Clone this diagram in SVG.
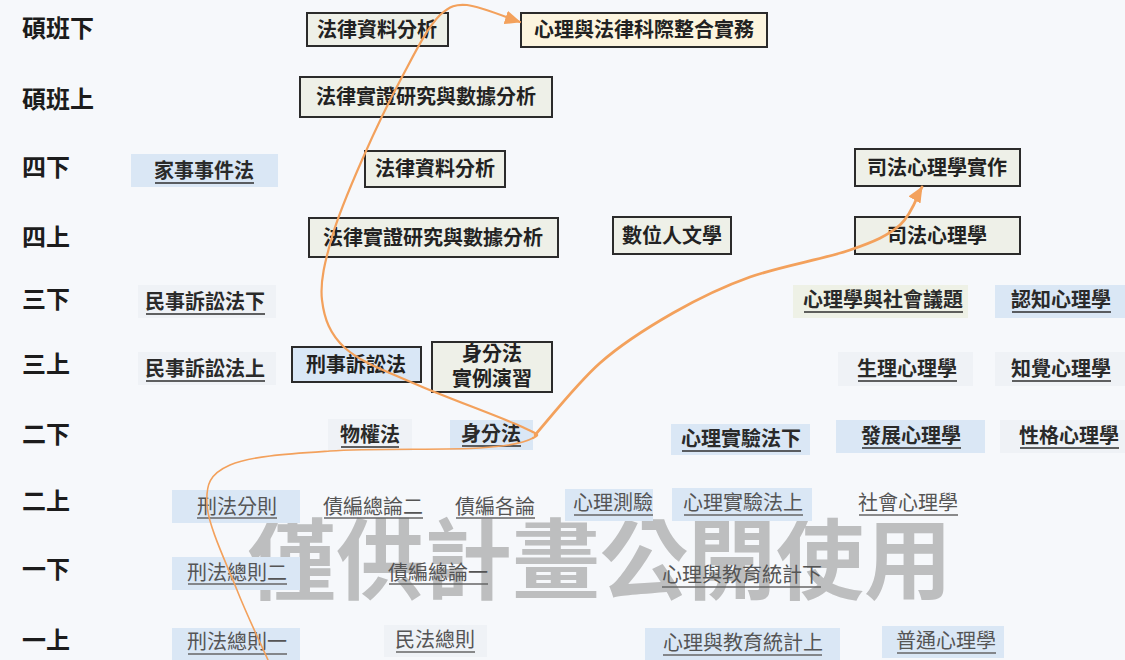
<svg xmlns="http://www.w3.org/2000/svg" width="1125" height="660" viewBox="0 0 1125 660">
<style>
  text { font-family: "Noto Sans CJK TC", "Noto Sans CJK SC", sans-serif; }
  .row { font-size: 24px; font-weight: 700; fill: #1c1c1c; }
  .bt { font-size: 20px; font-weight: 700; fill: #222; text-anchor: middle; }
  .lt { font-size: 20px; font-weight: 700; fill: #2a2a2a; text-anchor: middle; }
  .gt { font-size: 20px; font-weight: 400; fill: #555; text-anchor: middle; }
  .box { fill: #eef0e8; stroke: #2b2b2b; stroke-width: 2; }
  .boxc { fill: #fcf5df; stroke: #2b2b2b; stroke-width: 2; }
  .boxb { fill: #d9e7f6; stroke: #2b2b2b; stroke-width: 2; }
  .bgb { fill: #dae7f5; }
  .bgf { fill: #eff2f6; }
  .bgg { fill: #eef1e6; }
  .ul { stroke: #2e2e2e; stroke-width: 1.5; }
  .ulg { stroke: #666; stroke-width: 1.3; }
  .wm { font-size: 88px; font-weight: 700; fill: #a3a3a3; opacity: 0.68; text-anchor: middle; }
  .cv { fill: none; stroke: #f3a15c; stroke-linecap: round; }
</style>
<defs>
  <marker id="arr" markerUnits="userSpaceOnUse" markerWidth="16" markerHeight="14" viewBox="0 0 16 14" refX="15" refY="7" orient="auto">
    <path d="M0,0 L16,7 L0,14 z" fill="#f3a15c"/>
  </marker>
</defs>
<rect x="0" y="0" width="1125" height="660" fill="#f6f8fb"/>

<g id="rows">
  <text class="row" x="22" y="37">碩班下</text>
  <text class="row" x="22" y="108">碩班上</text>
  <text class="row" x="22" y="176">四下</text>
  <text class="row" x="22" y="246">四上</text>
  <text class="row" x="22" y="308">三下</text>
  <text class="row" x="22" y="373">三上</text>
  <text class="row" x="22" y="443">二下</text>
  <text class="row" x="22" y="510">二上</text>
  <text class="row" x="22" y="578">一下</text>
  <text class="row" x="22" y="649">一上</text>
</g>

<text class="wm" x="600" y="592">僅供計畫公開使用</text>

<!-- boxed nodes -->
<g id="n-law-data-m2"><rect class="box" x="307" y="13" width="141" height="33"/><text class="bt" x="377" y="37">法律資料分析</text></g>
<g id="n-psy-law-practice"><rect class="boxc" x="521" y="13" width="246" height="34"/><text class="bt" x="644" y="37">心理與法律科際整合實務</text></g>
<g id="n-law-emp-m1"><rect class="box" x="300" y="77" width="252" height="40"/><text class="bt" x="426" y="104">法律實證研究與數據分析</text></g>
<g id="n-law-data-4b"><rect class="box" x="365" y="151" width="140" height="36"/><text class="bt" x="435" y="176">法律資料分析</text></g>
<g id="n-law-emp-4a"><rect class="box" x="309" y="218" width="249" height="39"/><text class="bt" x="433" y="245">法律實證研究與數據分析</text></g>
<g id="n-digital"><rect class="box" x="613" y="217" width="118" height="37"/><text class="bt" x="672" y="243">數位人文學</text></g>
<g id="n-forensic-prac"><rect class="box" x="855" y="149" width="165" height="37"/><text class="bt" x="937" y="175">司法心理學實作</text></g>
<g id="n-forensic"><rect class="box" x="855" y="217" width="165" height="37"/><text class="bt" x="937" y="243">司法心理學</text></g>
<g id="n-crim-proc"><rect class="boxb" x="292" y="347" width="129" height="35"/><text class="bt" x="356" y="372">刑事訴訟法</text></g>
<g id="n-status-case"><rect class="box" x="432" y="342" width="120" height="50"/><text class="bt" x="492" y="361">身分法</text><text class="bt" x="492" y="386">實例演習</text></g>

<!-- underlined nodes, dark -->
<g id="n-family"><rect class="bgb" x="131" y="154" width="147" height="33"/><text class="lt" x="204" y="178">家事事件法</text><line class="ul" x1="155" y1="183" x2="254" y2="183"/></g>
<g id="n-civproc-b"><rect class="bgf" x="138" y="285" width="138" height="33"/><text class="lt" x="205" y="309">民事訴訟法下</text><line class="ul" x1="146" y1="314" x2="265" y2="314"/></g>
<g id="n-civproc-a"><rect class="bgf" x="138" y="352" width="138" height="33"/><text class="lt" x="205" y="376">民事訴訟法上</text><line class="ul" x1="146" y1="381" x2="265" y2="381"/></g>
<g id="n-property"><rect class="bgf" x="328" y="419" width="84" height="32"/><text class="lt" x="370" y="442">物權法</text><line class="ul" x1="341" y1="447" x2="399" y2="447"/></g>
<g id="n-status"><rect class="bgb" x="450" y="420" width="83" height="30"/><text class="lt" x="491" y="441">身分法</text><line class="ul" x1="462" y1="446" x2="521" y2="446"/></g>
<g id="n-exp-b"><rect class="bgb" x="671" y="424" width="139" height="31"/><text class="lt" x="741" y="446">心理實驗法下</text><line class="ul" x1="682" y1="451" x2="801" y2="451"/></g>
<g id="n-dev"><rect class="bgb" x="836" y="420" width="149" height="33"/><text class="lt" x="911" y="443">發展心理學</text><line class="ul" x1="862" y1="448" x2="961" y2="448"/></g>
<g id="n-personality"><rect class="bgf" x="1000" y="420" width="125" height="33"/><text class="lt" x="1069" y="443">性格心理學</text><line class="ul" x1="1020" y1="448" x2="1119" y2="448"/></g>
<g id="n-psy-society"><rect class="bgg" x="793" y="285" width="175" height="33"/><text class="lt" x="883" y="307">心理學與社會議題</text><line class="ul" x1="804" y1="312" x2="963" y2="312"/></g>
<g id="n-cognitive"><rect class="bgb" x="995" y="285" width="130" height="33"/><text class="lt" x="1061" y="307">認知心理學</text><line class="ul" x1="1012" y1="312" x2="1111" y2="312"/></g>
<g id="n-physio"><rect class="bgf" x="838" y="352" width="135" height="34"/><text class="lt" x="907" y="376">生理心理學</text><line class="ul" x1="858" y1="381" x2="957" y2="381"/></g>
<g id="n-perception"><rect class="bgf" x="995" y="352" width="130" height="34"/><text class="lt" x="1061" y="376">知覺心理學</text><line class="ul" x1="1012" y1="381" x2="1111" y2="381"/></g>

<!-- underlined nodes, gray -->
<g id="n-crim-special"><rect class="bgb" x="172" y="490" width="128" height="33"/><text class="gt" x="237" y="514">刑法分則</text><line class="ulg" x1="197" y1="518" x2="277" y2="518"/></g>
<g id="n-oblig-2"><text class="gt" x="373" y="514">債編總論二</text><line class="ulg" x1="324" y1="518" x2="423" y2="518"/></g>
<g id="n-oblig-sp"><text class="gt" x="495" y="514">債編各論</text><line class="ulg" x1="456" y1="518" x2="535" y2="518"/></g>
<g id="n-testing"><rect class="bgb" x="565" y="489" width="88" height="32"/><text class="gt" x="613" y="510">心理測驗</text><line class="ulg" x1="574" y1="515" x2="653" y2="515"/></g>
<g id="n-exp-a"><rect class="bgb" x="672" y="488" width="140" height="33"/><text class="gt" x="743" y="510">心理實驗法上</text><line class="ulg" x1="684" y1="515" x2="803" y2="515"/></g>
<g id="n-social"><text class="gt" x="908" y="510">社會心理學</text><line class="ulg" x1="859" y1="515" x2="958" y2="515"/></g>
<g id="n-crim-gen-2"><rect class="bgb" x="172" y="557" width="128" height="33"/><text class="gt" x="237" y="580">刑法總則二</text><line class="ulg" x1="188" y1="584" x2="287" y2="584"/></g>
<g id="n-oblig-1"><text class="gt" x="438" y="580">債編總論一</text><line class="ulg" x1="389" y1="584" x2="488" y2="584"/></g>
<g id="n-stat-b"><text class="gt" x="742" y="582">心理與教育統計下</text><line class="ulg" x1="662" y1="587" x2="821" y2="587"/></g>
<g id="n-crim-gen-1"><rect class="bgb" x="172" y="628" width="128" height="32"/><text class="gt" x="237" y="649">刑法總則一</text><line class="ulg" x1="188" y1="654" x2="287" y2="654"/></g>
<g id="n-civil-gen"><rect class="bgf" x="384" y="625" width="103" height="32"/><text class="gt" x="435" y="647">民法總則</text><line class="ulg" x1="396" y1="652" x2="475" y2="652"/></g>
<g id="n-stat-a"><rect class="bgb" x="645" y="628" width="195" height="32"/><text class="gt" x="743" y="650">心理與教育統計上</text><line class="ulg" x1="663" y1="655" x2="822" y2="655"/></g>
<g id="n-general"><rect class="bgb" x="882" y="626" width="122" height="32"/><text class="gt" x="946" y="648">普通心理學</text><line class="ulg" x1="897" y1="653" x2="996" y2="653"/></g>

<g id="connectors">
  <path class="cv" stroke-width="1.6" d="M268,660 C262.8,648.3 247.2,615.8 237,590 C226.8,564.2 208.2,525.8 207,505 C205.8,484.2 209.5,474 230,465 C250.5,456 288.3,453.8 330,451 C371.7,448.2 446.2,450.2 480,448 C513.8,445.8 526.3,441.7 533,438"/>
  <path class="cv" stroke-width="2.2" marker-end="url(#arr)" d="M533,438 C539.7,434.3 540,435.2 520,426 C500,416.8 442.2,396 413,383 C383.8,370 360.2,361.8 345,348 C329.8,334.2 324.2,318.5 322,300 C319.8,281.5 325.3,260.3 332,237 C338.7,213.7 350.3,186.7 362,160 C373.7,133.3 389,101.3 402,77 C415,52.7 427,28 440,15 C450,6 456,4 467,5 C480.3,6.3 511.2,19.2 520,22"/>
  <path class="cv" stroke-width="2.8" marker-end="url(#arr)" d="M535,435 C545.8,423 577,383.3 600,363 C623,342.7 648,327.3 673,313 C698,298.7 720.5,287.5 750,277 C779.5,266.5 825,258.7 850,250 C875,241.3 888,235.5 900,225 C912,214.5 918.3,193.3 922,187"/>
</g>
</svg>
